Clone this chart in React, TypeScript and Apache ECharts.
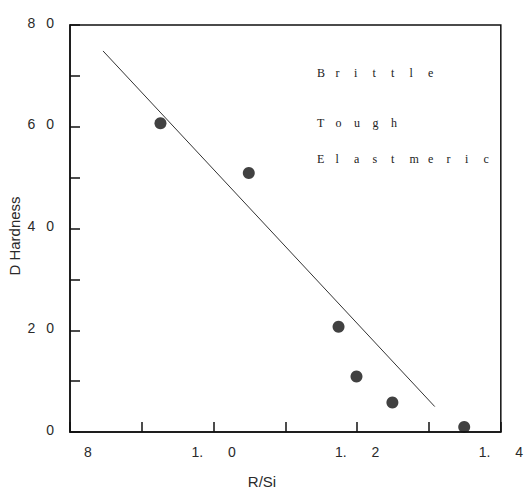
import React, { useEffect, useRef } from "react";
import * as echarts from "echarts";

const pointX = [0.926, 1.049, 1.174, 1.199, 1.249, 1.349];
const pointY = [60.7, 50.9, 20.7, 10.9, 5.8, 1.0];
const lineX = [0.846, 1.308];
const lineY = [74.9, 5.0];
const xTickValues = [0.8, 1.0, 1.2, 1.4];
const xTickLabels = ["8", "1. 0", "1. 2", "1. 4"];
const yTickValues = [0, 20, 40, 60, 80];
const yTickLabels = ["0", "2 0", "4 0", "6 0", "8 0"];
const annotations = ["Brittle", "Tough", "Elastmeric"];
const xTitle = "R/Si";
const yTitle = "D Hardness";

const TXT = "#2a2a2a";
const FONT_FAMILY = "'Liberation Sans', Arial, sans-serif";

function spacedLetters(word: string, x: number, y: number, pitch: number) {
  return {
    type: "group",
    x,
    y,
    children: word.split("").map((ch, i) => ({
      type: "text",
      x: i * pitch,
      y: 0,
      style: {
        text: ch,
        font: `12px 'Liberation Serif', serif`,
        fill: "#222",
        textAlign: "left",
        textVerticalAlign: "middle",
        align: "left",
        verticalAlign: "middle",
      },
    })),
  };
}

export default function App() {
  const ref = useRef<HTMLDivElement>(null);
  useEffect(() => {
    if (!ref.current) return;
    const chart = echarts.init(ref.current, null, { renderer: "svg" });
    const xFmt = (v: number) => {
      const idx = xTickValues.findIndex((t) => Math.abs(t - v) < 1e-6);
      if (idx < 0) return "";
      const lab = xTickLabels[idx];
      if (idx === 0) return `{first|${lab}}`;
      return lab.replace(" ", "\u2003\u2002 ");
    };
    const yFmt = (v: number) => {
      const idx = yTickValues.findIndex((t) => Math.abs(t - v) < 1e-6);
      if (idx < 0) return "";
      return `{y|${yTickLabels[idx].replace(" ", "\u2002 ")}}`;
    };
    chart.setOption({
      animation: false,
      backgroundColor: "#fff",
      grid: {
        left: 70,
        top: 25,
        right: 23,
        bottom: 59,
        show: true,
        borderColor: "#111",
        borderWidth: 1.5,
        backgroundColor: "transparent",
      },
      xAxis: {
        type: "value",
        min: 0.8,
        max: 1.4,
        interval: 0.1,
        splitLine: { show: false },
        axisLine: { show: true, lineStyle: { color: "#111", width: 1.5 } },
        axisTick: { show: true, inside: true, length: 10, lineStyle: { color: "#111", width: 1.5 } },
        axisLabel: {
          show: true,
          margin: 13,
          color: TXT,
          fontSize: 14,
          fontFamily: FONT_FAMILY,
          formatter: xFmt,
          showMinLabel: true,
          showMaxLabel: true,
          rich: {
            first: { fontSize: 14, fontFamily: FONT_FAMILY, color: TXT, padding: [0, 0, 0, 36] },
          },
        },
      },
      yAxis: {
        type: "value",
        min: 0,
        max: 80,
        interval: 10,
        splitLine: { show: false },
        axisLine: { show: true, lineStyle: { color: "#111", width: 1.5 } },
        axisTick: { show: true, inside: true, length: 10, lineStyle: { color: "#111", width: 1.5 } },
        axisLabel: {
          show: true,
          margin: 16,
          color: TXT,
          fontSize: 14,
          fontFamily: FONT_FAMILY,
          formatter: yFmt,
          showMinLabel: true,
          showMaxLabel: true,
          rich: {
            y: { fontSize: 14, fontFamily: FONT_FAMILY, color: TXT, padding: [0, 0, 5, 0] },
          },
        },
      },
      series: [
        {
          type: "line",
          data: lineX.map((x, i) => [x, lineY[i]]),
          symbol: "none",
          lineStyle: { color: "#333", width: 1 },
          z: 2,
        },
        {
          type: "scatter",
          data: pointX.map((x, i) => [x, pointY[i]]),
          symbol: "circle",
          symbolSize: 12,
          itemStyle: { color: "#111" },
          z: 3,
        },
      ],
      graphic: [
        spacedLetters(annotations[0], 317, 73, 18.5),
        spacedLetters(annotations[1], 317, 123, 18.5),
        spacedLetters(annotations[2], 317, 159, 18.5),
        {
          type: "text",
          x: 262,
          y: 481,
          style: {
            text: xTitle,
            font: `15px ${FONT_FAMILY}`,
            fill: TXT,
            textAlign: "center",
            textVerticalAlign: "middle",
            align: "center",
            verticalAlign: "middle",
          },
        },
        {
          type: "text",
          x: 14,
          y: 236,
          rotation: Math.PI / 2,
          style: {
            text: yTitle,
            font: `15px ${FONT_FAMILY}`,
            fill: TXT,
            textAlign: "center",
            textVerticalAlign: "middle",
            align: "center",
            verticalAlign: "middle",
          },
        },
      ],
    });
    return () => chart.dispose();
  }, []);
  return <div ref={ref} style={{ width: 526, height: 491, position: "absolute", left: 0, top: 0 }} />;
}
